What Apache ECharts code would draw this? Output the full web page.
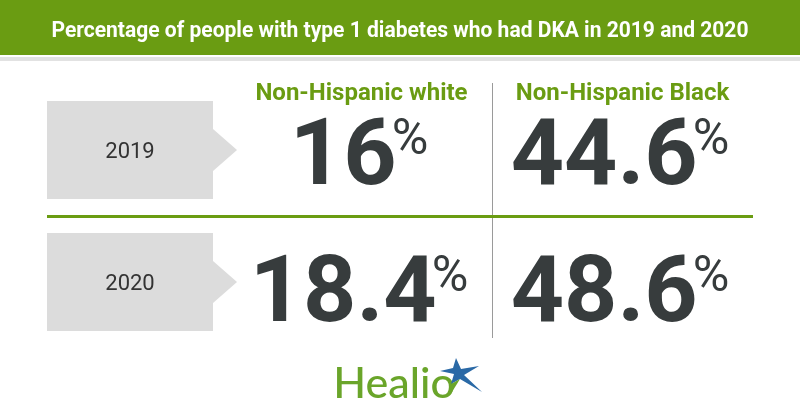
<!DOCTYPE html>
<html>
<head>
<meta charset="utf-8">
<script src="https://cdn.jsdelivr.net/npm/echarts@6/dist/echarts.min.js"></script>
<style>html,body{margin:0;padding:0;background:#fff}#c{width:800px;height:420px}</style>
</head>
<body>
<div id="c"></div>
<script>
const titleText = 'Percentage of people with type 1 diabetes who had DKA in 2019 and 2020';
const groups = ['Non-Hispanic white', 'Non-Hispanic Black'];
const years = ['2019', '2020'];
const whiteValues = [16, 18.4];
const blackValues = [44.6, 48.6];
const brand = 'Healio';

const GREEN = '#6a9c12';
const DARK = '#373c3d';

const valueData = [];
years.forEach((y, i) => {
  valueData.push([groups[0], y, whiteValues[i]]);
  valueData.push([groups[1], y, blackValues[i]]);
});

const cv = document.createElement('canvas').getContext('2d');
// measure title to emulate condensed font
cv.font = 'bold 22px Roboto';
const tw = cv.measureText(titleText).width;
const titleScale = 697 / tw;

// number tokens: tighten gap before the % sign
const NUM_FONT = 93;
cv.font = 'bold ' + NUM_FONT + 'px Roboto';
const rich = {
  p: {fontFamily: 'Roboto', fontWeight: 'normal', fontSize: 50, color: DARK, verticalAlign: 'top', lineHeight: 60, padding: [5, 0, 0, 0]}
};
valueData.forEach((d, i) => {
  const w = cv.measureText(String(d[2])).width;
  rich['n' + i] = {fontFamily: 'Roboto', fontWeight: 'bold', fontSize: NUM_FONT, color: DARK, lineHeight: 100, width: Math.round(w - 10)};
});

const chart = echarts.init(document.getElementById('c'), null, {renderer: 'canvas'});
chart.setOption({
  animation: false,
  backgroundColor: '#fff',
  grid: [
    {left: 231, top: 92.5, width: 522, height: 274},
    {left: 0, top: 84, width: 800, height: 264}
  ],
  xAxis: [
    {
      type: 'category', data: groups, gridIndex: 0, position: 'top',
      axisLine: {show: false}, axisTick: {show: false}, splitLine: {show: false},
      axisLabel: {interval: 0, margin: -1.5, verticalAlign: 'middle', color: GREEN, fontFamily: 'Roboto', fontWeight: 'bold', fontSize: 24}
    },
    {type: 'value', gridIndex: 1, min: 0, max: 800, show: false}
  ],
  yAxis: [
    {type: 'category', data: years, gridIndex: 0, inverse: true, show: false},
    {type: 'category', data: years, gridIndex: 1, inverse: true, show: false}
  ],
  graphic: [
    {type: 'rect', shape: {x: 0, y: 0, width: 800, height: 55}, style: {fill: GREEN}, silent: true},
    {type: 'rect', shape: {x: 0, y: 57, width: 800, height: 4}, style: {fill: '#e2e2e2'}, silent: true},
    {type: 'text', x: 400, y: 31, scaleX: titleScale, style: {text: titleText, fill: '#fff', font: 'bold 22px Roboto', textAlign: 'center', textVerticalAlign: 'middle'}, silent: true},
    {type: 'line', shape: {x1: 492.5, y1: 83, x2: 492.5, y2: 338}, style: {stroke: '#9a9a9a', lineWidth: 1}, silent: true, z: 1},
    {type: 'line', shape: {x1: 47, y1: 216.5, x2: 753, y2: 216.5}, style: {stroke: GREEN, lineWidth: 3}, silent: true, z: 2},
    {type: 'text', x: 394, y: 384, style: {text: brand, fill: '#6aa52a', font: '500 43px Lato', textAlign: 'center', textVerticalAlign: 'middle'}, silent: true},
    {type: 'polygon', shape: {points: [[456,358],[461,369],[479,366],[464,375],[482,392],[460,379],[451,384],[454,374],[440,371],[453,368]]}, style: {fill: '#2a69a6'}, silent: true},
    {type: 'polygon', shape: {points: [[451,384],[460,379],[452,392]]}, style: {fill: '#6aa52a'}, silent: true}
  ],
  series: [
    {
      type: 'custom',
      coordinateSystem: 'cartesian2d',
      xAxisIndex: 1, yAxisIndex: 1,
      data: years.map(y => [0, y]),
      encode: {x: 0, y: 1},
      silent: true,
      renderItem: function (params, api) {
        const p = api.coord([api.value(0), api.value(1)]);
        const y = p[1];
        const x0 = 47, x1 = 213, tip = 237, h = 49, a = 21;
        return {
          type: 'group',
          children: [
            {type: 'polygon', shape: {points: [[x0, y - h], [x1, y - h], [x1, y - a], [tip, y], [x1, y + a], [x1, y + h], [x0, y + h]]}, style: {fill: '#dcdcdc'}},
            {type: 'text', x: 130, y: y + 2, style: {text: years[params.dataIndex], fill: '#333', font: '22px Roboto', textAlign: 'center', textVerticalAlign: 'middle'}}
          ]
        };
      }
    },
    {
      type: 'scatter',
      xAxisIndex: 0, yAxisIndex: 0,
      data: valueData,
      symbolSize: 1,
      itemStyle: {color: 'rgba(0,0,0,0)', opacity: 1},
      silent: true,
      label: {
        show: true,
        position: 'inside',
        opacity: 1,
        formatter: function (p) {
          return '{n' + p.dataIndex + '|' + p.value[2] + '}{p|%}';
        },
        rich: rich
      }
    }
  ]
});
</script>
</body>
</html>
